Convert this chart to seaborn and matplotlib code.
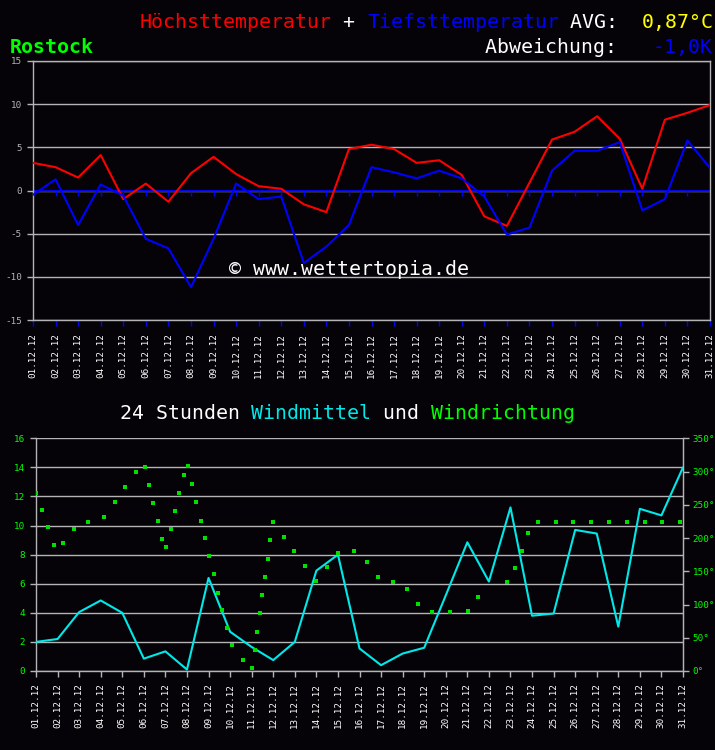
import matplotlib
matplotlib.use("Agg")
import matplotlib.pyplot as plt
import seaborn as sns
import numpy as np
import pandas as pd

# Tageswerte Dezember 2012, Rostock
days = np.arange(1, 32)
date_labels = [f"{d:02d}.12.12" for d in days]

t_max = [3.2, 2.7, 1.5, 4.1, -1.0, 0.8, -1.3, 2.0, 3.9, 1.9,
         0.5, 0.2, -1.6, -2.5, 4.8, 5.3, 4.8, 3.2, 3.5, 1.8,
         -3.0, -4.1, 0.9, 5.9, 6.8, 8.6, 6.0, 0.2, 8.2, 9.0, 9.9]
t_min = [-0.5, 1.3, -4.0, 0.7, -0.6, -5.6, -6.7, -11.2, -5.6, 0.8,
         -1.0, -0.7, -8.4, -6.5, -4.0, 2.7, 2.1, 1.4, 2.3, 1.4,
         -0.7, -5.1, -4.3, 2.3, 4.6, 4.6, 5.6, -2.3, -1.0, 5.8, 2.6]

wind_mean = [2.0, 2.2, 4.05, 4.85, 4.0, 0.85, 1.35, 0.1, 6.4, 2.7,
             1.65, 0.75, 2.0, 6.9, 8.0, 1.55, 0.4, 1.2, 1.6, 5.2,
             8.85, 6.15, 11.25, 3.8, 3.95, 9.7, 9.45, 3.05, 11.15, 10.7, 14.0]

# Windrichtung (Zeitpunkt in Tagen, Grad)
dir_time = [1.0, 1.26, 1.57, 1.85, 2.27, 2.76, 3.43, 4.17, 4.65, 5.14,
            5.64, 6.05, 6.24, 6.44, 6.64, 6.84, 7.03, 7.24, 7.44, 7.64,
            7.85, 8.05, 8.23, 8.43, 8.64, 8.83, 9.02, 9.24, 9.42, 9.62,
            9.85, 10.1, 10.6, 11.0, 11.15, 11.25, 11.38, 11.5, 11.63, 11.74,
            11.86, 11.99, 12.48, 12.96, 13.46, 13.98, 14.48, 14.99, 15.76, 16.35,
            16.84, 17.57, 18.22, 18.72, 19.37, 20.19, 21.01, 21.5, 22.82, 23.22,
            23.52, 23.8, 24.26, 25.09, 25.91, 26.74, 27.58, 28.4, 29.22, 30.04,
            30.87]
dir_deg = [268, 242, 216, 190, 192, 214, 224, 232, 254, 276,
           299, 307, 280, 253, 226, 199, 187, 213, 240, 267,
           295, 308, 281, 254, 226, 200, 173, 146, 118, 92,
           65, 39, 16, 4, 32, 59, 87, 114, 142, 169,
           197, 224, 202, 180, 158, 135, 156, 177, 180, 164,
           142, 134, 123, 101, 89, 89, 90, 112, 134, 155,
           181, 207, 224, 224, 224, 224, 224, 224, 224, 224,
           224]

bg = "#050308"
grid_c = "#b4b4b4"
red = "#ff0000"
blue = "#0000ff"
cyan = "#00e8e8"
green = "#00ff00"
yellow = "#ffff00"
white = "#ffffff"

sns.set_style("dark")
plt.rcParams["font.family"] = ["DejaVu Sans Mono"]
plt.rcParams["axes.unicode_minus"] = False

W, H = 715, 750
fig = plt.figure(figsize=(W / 100, H / 100), dpi=100, facecolor=bg)


def fx(px):
    return px / W


def fy(py):
    return 1 - py / H


FS = 14.3
ADV = 11.95  # Zeichenbreite in px


def pieces(x0, y0, parts, **kw):
    x = x0
    for txt, col in parts:
        fig.text(fx(x), fy(y0), txt, color=col, fontsize=FS, va="baseline", ha="left", **kw)
        x += len(txt) * ADV


# Kopfzeilen
pieces(140, 28, [("Höchsttemperatur", red), (" + ", white), ("Tiefsttemperatur", blue),
                 (" AVG:  ", white), ("0,87°C", yellow)])
fig.text(fx(10), fy(53), "Rostock", color=green, fontsize=FS, fontweight="bold", va="baseline")
pieces(485, 53, [("Abweichung:   ", white), ("-1,0K", blue)])

# --- Temperatur ---
ax1 = fig.add_axes([fx(33), fy(320), fx(710) - fx(33), fy(61) - fy(320)])
ax1.set_facecolor(bg)
ax1.yaxis.grid(True, color=grid_c, lw=1)
ax1.xaxis.grid(False)
ax1.axhline(0, color=blue, lw=1.3, zorder=2)
ax1.vlines(days, -0.6, 0, color=blue, lw=1, zorder=2)
sns.lineplot(x=days, y=t_max, color=red, lw=1.5, ax=ax1, zorder=3)
sns.lineplot(x=days, y=t_min, color=blue, lw=1.5, ax=ax1, zorder=3)
ax1.set_xlim(1, 31)
ax1.set_ylim(-15, 15)
ax1.set_yticks(range(-15, 16, 5))
ax1.set_xticks(days)
ax1.set_xticklabels(date_labels, rotation=90, fontsize=6.7, color=white)
for lab, v in zip(ax1.get_yticklabels(), range(-15, 16, 5)):
    lab.set_color(yellow if v >= 0 else green)
    lab.set_fontsize(6.7)
ax1.tick_params(axis="x", colors=blue, labelcolor=white, length=4, width=1, pad=5, direction="out", bottom=True)
ax1.tick_params(axis="y", colors=grid_c, length=4, width=1, pad=4, left=True)
for s in ax1.spines.values():
    s.set_color(grid_c)
    s.set_linewidth(1)
ax1.spines["top"].set_visible(True)
ax1.set_xlabel("")
ax1.set_ylabel("")
fig.text(fx(229), fy(275), "© www.wettertopia.de", color=white, fontsize=FS, va="baseline")

# --- Wind ---
pieces(120, 419, [("24 Stunden ", white), ("Windmittel", cyan), (" und ", white),
                  ("Windrichtung", green)])

ax2 = fig.add_axes([fx(36), fy(671), fx(683) - fx(36), fy(438.3) - fy(671)])
ax2.set_facecolor(bg)
ax2.yaxis.grid(True, color=grid_c, lw=1)
ax2.xaxis.grid(False)
sns.lineplot(x=days, y=wind_mean, color=cyan, lw=1.5, ax=ax2, zorder=3)
ax2.set_xlim(1, 31)
ax2.set_ylim(0, 16)
ax2.set_yticks(range(0, 17, 2))
ax2.set_xticks(days)
ax2.set_xticklabels(date_labels, rotation=90, fontsize=6.7, color=white)
for lab in ax2.get_yticklabels():
    lab.set_color(green)
    lab.set_fontsize(6.7)
ax2.tick_params(axis="x", colors=grid_c, labelcolor=white, length=4, width=1, pad=5, bottom=True)
ax2.tick_params(axis="y", colors=grid_c, labelcolor=green, length=4, width=1, pad=4, left=True)
for s in ax2.spines.values():
    s.set_color(grid_c)
    s.set_linewidth(1)
ax2.spines["top"].set_visible(False)
ax2.set_xlabel("")
ax2.set_ylabel("")

ax3 = ax2.twinx()
dir_df = pd.DataFrame({"t": dir_time, "deg": dir_deg})
sns.scatterplot(data=dir_df, x="t", y="deg", color="#00e000", marker="s", s=5,
                linewidth=0, ax=ax3, zorder=4)
ax3.set_ylim(0, 350)
ax3.set_yticks(range(0, 351, 50))
ax3.set_yticklabels([f"{v}°" for v in range(0, 351, 50)], fontsize=6.7, color=green)
ax3.tick_params(axis="y", colors=grid_c, labelcolor=green, length=4, width=1, pad=3, right=True)
ax3.grid(False)
ax3.set_ylabel("")
ax3.set_xlabel("")
for k, s in ax3.spines.items():
    s.set_visible(k == "right")
    s.set_color(grid_c)
ax3.set_xlim(1, 31)

fig.savefig("out.png", dpi=100, facecolor=bg)
